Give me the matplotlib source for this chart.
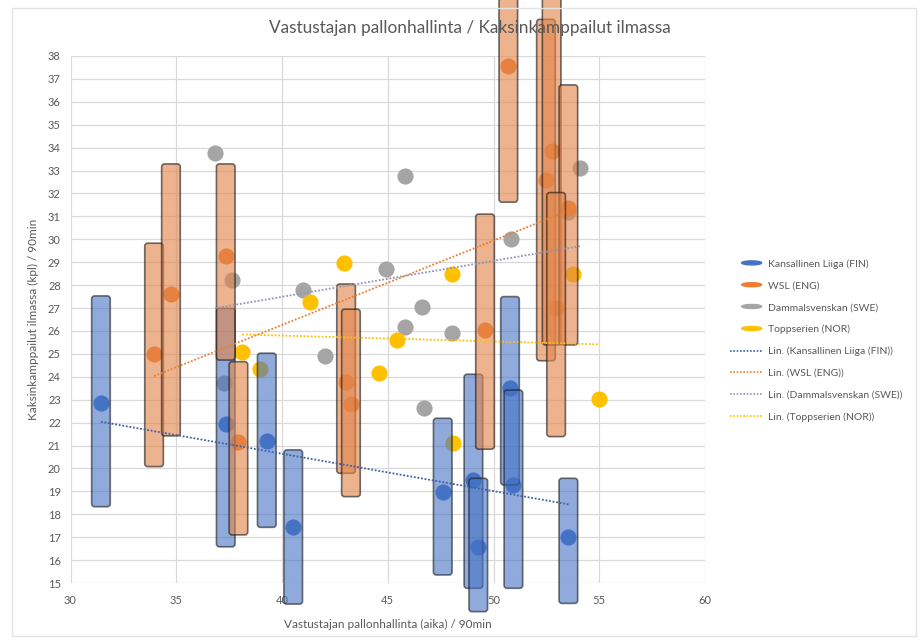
import numpy as np
import matplotlib
matplotlib.use("Agg")
import matplotlib.pyplot as plt
from matplotlib.patches import Ellipse, Patch, Rectangle, FancyBboxPatch
from matplotlib.lines import Line2D
from matplotlib.legend_handler import HandlerPatch

plt.rcParams['font.family'] = ['Lato', 'DejaVu Sans']

# ---------------- data ----------------
title = "Vastustajan pallonhallinta / Kaksinkamppailut ilmassa"
x_label = "Vastustajan pallonhallinta (aika) / 90min"
y_label = "Kaksinkamppailut ilmassa (kpl) / 90min"
series_names = ["Kansallinen Liiga (FIN)", "WSL (ENG)", "Dammalsvenskan (SWE)", "Toppserien (NOR)"]

fin_x = [31.44, 37.34, 39.28, 40.53, 47.60, 49.05, 49.28, 50.78, 50.94, 53.54]
fin_y = [22.86, 21.93, 21.20, 17.46, 18.96, 19.50, 16.58, 23.50, 19.28, 17.02]
fin_lo = [18.33, 16.58, 17.43, 14.08, 15.35, 14.77, 13.75, 19.28, 14.77, 14.11]
fin_hi = [27.53, 26.99, 25.03, 20.81, 22.19, 24.11, 19.57, 27.50, 23.42, 19.57]

eng_x = [33.95, 34.75, 37.34, 37.94, 43.03, 43.26, 49.60, 50.70, 52.48, 52.75, 53.54, 52.96]
eng_y = [25.00, 27.61, 29.29, 21.14, 23.79, 22.81, 26.04, 37.58, 32.59, 33.86, 31.36, 27.00]
eng_lo = [20.08, 21.42, 24.73, 17.10, 19.79, 18.77, 20.84, 31.62, 24.70, 25.39, 25.39, 21.39]
eng_hi = [29.83, 33.29, 33.29, 24.66, 28.05, 26.95, 31.10, 41.50, 39.60, 41.50, 36.74, 32.04]

swe_x = [36.83, 37.64, 37.26, 40.98, 42.03, 45.82, 44.92, 46.63, 45.82, 48.05, 46.71, 50.83, 54.09, 53.50]
swe_y = [33.78, 28.23, 23.72, 27.79, 24.91, 32.78, 28.69, 27.06, 26.19, 25.93, 22.65, 30.00, 33.10, 31.20]

nor_x = [38.12, 38.96, 41.32, 42.93, 45.42, 44.60, 48.02, 48.07, 53.74, 54.99]
nor_y = [25.10, 24.35, 27.28, 28.95, 25.61, 24.15, 28.49, 21.12, 28.47, 23.03]

x_ticks = [30, 35, 40, 45, 50, 55, 60]
y_ticks = list(range(15, 39))

# ---------------- style ----------------
C_BLUE = "#4472C4"
C_ORANGE = "#ED7D31"
C_GREY = "#A5A5A5"
C_YELLOW = "#FFC000"
TXT = "#595959"
GRID = "#D9D9D9"

W, H = 922, 641
fig = plt.figure(figsize=(W / 100, H / 100), dpi=100)
ax = fig.add_axes([70.5 / W, 1 - 583 / H, (705 - 70.5) / W, (583 - 56) / H])

ax.set_xlim(30, 60)
ax.set_ylim(15, 38)
ax.set_xticks(x_ticks)
ax.set_yticks(y_ticks)
ax.grid(True, color=GRID, linewidth=0.9, zorder=0)
ax.set_axisbelow(True)
for s in ax.spines.values():
    s.set_visible(False)
ax.tick_params(length=0, labelsize=8, labelcolor=TXT)
ax.tick_params(axis='x', pad=9)
ax.tick_params(axis='y', pad=7)

ms = 135
ax.scatter(swe_x, swe_y, s=ms, color=C_GREY, zorder=2, linewidths=0)
ax.scatter(fin_x, fin_y, s=ms, color=C_BLUE, zorder=2, linewidths=0)
ax.scatter(eng_x, eng_y, s=ms, color=C_ORANGE, zorder=2, linewidths=0)
ax.scatter(nor_x, nor_y, s=ms, color=C_YELLOW, zorder=2, linewidths=0)

bw = 0.88
fin_h = np.array(fin_hi) - np.array(fin_lo)
eng_h = np.array(eng_hi) - np.array(eng_lo)
b1 = ax.bar(fin_x, fin_h, bottom=fin_lo, width=bw, color=C_BLUE, alpha=0.6,
            linewidth=1.2, zorder=3)
b2 = ax.bar(eng_x, eng_h, bottom=eng_lo, width=bw, color="#E2854A", alpha=0.62,
            linewidth=1.2, zorder=3)

# give the bars rounded corners, keeping the geometry computed by ax.bar
aspect = (22.91 / 21.15)
for container, fc, al in ((b1, C_BLUE, 0.6), (b2, "#E2854A", 0.62)):
    for r in container:
        fb = FancyBboxPatch((r.get_x(), r.get_y()), r.get_width(), r.get_height(),
                            boxstyle="round,pad=0,rounding_size=0.14",
                            mutation_aspect=1 / aspect,
                            facecolor=fc, alpha=al, edgecolor=(0.1, 0.1, 0.1, 0.9),
                            linewidth=1.2, zorder=3, clip_on=False)
        ax.add_patch(fb)
        r.set_visible(False)

def trend(xs, ys, color):
    xs = np.asarray(xs); ys = np.asarray(ys)
    k, c = np.polyfit(xs, ys, 1)
    xx = np.array([xs.min(), xs.max()])
    ax.plot(xx, k * xx + c, linestyle=(0, (1, 1)), color=color, linewidth=1.3, zorder=4)

trend(fin_x, fin_y, "#3A5FA8")
trend(eng_x, eng_y, C_ORANGE)
trend(swe_x, swe_y, "#8F96B8")
trend(nor_x, nor_y, C_YELLOW)

ax.set_xlabel(x_label, fontsize=8.5, color=TXT)
ax.set_ylabel(y_label, fontsize=8.5, color=TXT)
ax.xaxis.set_label_coords(0.5, (583 - 619) / 527)
ax.yaxis.set_label_coords((39 - 70.5) / 634.5, 0.5)

fig.text(470 / W, 1 - 28 / H, title, ha='center', va='center', fontsize=12.4, color=TXT)

# chart border
fig.patches.append(Rectangle((12 / W, 1 - 636 / H), (916 - 12) / W, (636 - 8) / H,
                             transform=fig.transFigure, fill=False, edgecolor="#E3E3E3",
                             linewidth=1, zorder=0))


class HandlerEllipse(HandlerPatch):
    def create_artists(self, legend, orig_handle, xdescent, ydescent, width, height, fontsize, trans):
        center = (0.5 * width - xdescent + 0.15 * width, 0.5 * height - ydescent)
        p = Ellipse(xy=center, width=width * 0.6, height=height * 0.55)
        self.update_prop(p, orig_handle, legend)
        p.set_transform(trans)
        return [p]

handles = [Patch(color=C_BLUE), Patch(color=C_ORANGE), Patch(color=C_GREY), Patch(color=C_YELLOW),
           Line2D([], [], color="#3A5FA8", linestyle=(0, (1, 1)), lw=1.2),
           Line2D([], [], color=C_ORANGE, linestyle=(0, (1, 1)), lw=1.2),
           Line2D([], [], color="#8F96B8", linestyle=(0, (1, 1)), lw=1.2),
           Line2D([], [], color=C_YELLOW, linestyle=(0, (1, 1)), lw=1.2)]
labels = series_names + ["Lin. (%s)" % n for n in series_names]
leg = fig.legend(handles, labels, loc='upper left', bbox_to_anchor=(730 / W, 1 - 259 / H),
                 frameon=False, fontsize=7.5, labelcolor=TXT, handlelength=3.2,
                 handletextpad=0.4, labelspacing=1.2, borderaxespad=0, borderpad=0,
                 handler_map={Patch: HandlerEllipse()})

fig.savefig("out.png", dpi=100)
